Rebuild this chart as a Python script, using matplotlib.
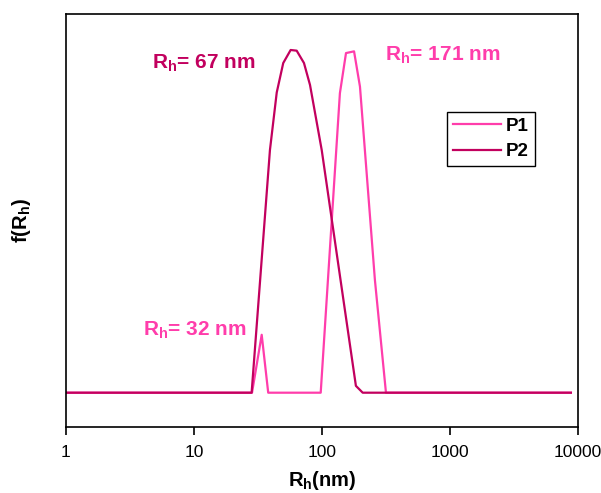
import numpy as np
import matplotlib
matplotlib.use("Agg")
import matplotlib.pyplot as plt
from matplotlib.ticker import FixedLocator, FixedFormatter, NullLocator

plt.rcParams['font.family'] = ['Liberation Sans', 'DejaVu Sans']
plt.rcParams['mathtext.fontset'] = 'custom'
plt.rcParams['mathtext.rm'] = 'Liberation Sans'
plt.rcParams['mathtext.bf'] = 'Liberation Sans:bold'

# size distributions (Rh in nm, normalised f(Rh))
p1_rh = [1, 28.4, 33.8, 38.0, 97.7, 138, 154, 178, 198, 259, 316, 8800]
p1_f = [0, 0, 0.169, 0, 0, 0.874, 0.991, 0.996, 0.893, 0.329, 0, 0]

p2_rh = [1, 28.2, 39.2, 44.3, 49.8, 56.9, 63.4, 72.3, 80.6, 99.5, 147, 184, 208, 8800]
p2_f = [0, 0, 0.708, 0.876, 0.962, 1.0, 0.998, 0.962, 0.898, 0.708, 0.271, 0.02, 0, 0]

xticks = [1, 10, 100, 1000, 10000]
xtick_labels = ["1", "10", "100", "1000", "10000"]

c_p1 = "#FF3DAB"
c_p2 = "#C2005E"

fig = plt.figure(figsize=(6.01, 4.93), dpi=100)
ax = fig.add_axes([66/601, 1 - 426.7/493, (578-66)/601, (426.7-14)/493])

ax.plot(p1_rh, p1_f, color=c_p1, lw=1.6, label="P1")
ax.plot(p2_rh, p2_f, color=c_p2, lw=1.6, label="P2")

ax.set_xscale("log")
ax.set_xlim(1, 10000)
ax.set_ylim(-0.0992, 1.105)
ax.xaxis.set_major_locator(FixedLocator(xticks))
ax.xaxis.set_major_formatter(FixedFormatter(xtick_labels))
ax.xaxis.set_minor_locator(NullLocator())
ax.set_yticks([])
ax.tick_params(axis='x', direction='out', length=6, width=1.2, labelsize=12.5, pad=7)
for s in ax.spines.values():
    s.set_linewidth(1.2)

ax.set_xlabel(r"R$_\mathbf{h}$(nm)", fontsize=14.5, fontweight="bold", labelpad=7)
ax.set_ylabel(r"f(R$_\mathbf{h}$)", fontsize=14.5, fontweight="bold", labelpad=24)

# peak annotations
ax.text(4.7, 0.945, r"R$_\mathbf{h}$= 67 nm", color=c_p2, fontsize=15, fontweight="bold", va="baseline")
ax.text(310, 0.97, r"R$_\mathbf{h}$= 171 nm", color=c_p1, fontsize=15, fontweight="bold", va="baseline")
ax.text(4.02, 0.166, r"R$_\mathbf{h}$= 32 nm", color=c_p1, fontsize=15, fontweight="bold", va="baseline")

leg = ax.legend(loc="upper left", bbox_to_anchor=(447/601, 1 - 112/493), bbox_transform=fig.transFigure,
                fancybox=False, edgecolor="black", framealpha=1, handlelength=2.6, handletextpad=0.25,
                borderpad=0.3, labelspacing=0.45, prop={'weight': 'bold', 'size': 13.5}, borderaxespad=0)
leg.get_frame().set_linewidth(1.0)

fig.savefig("out.png", dpi=100)
